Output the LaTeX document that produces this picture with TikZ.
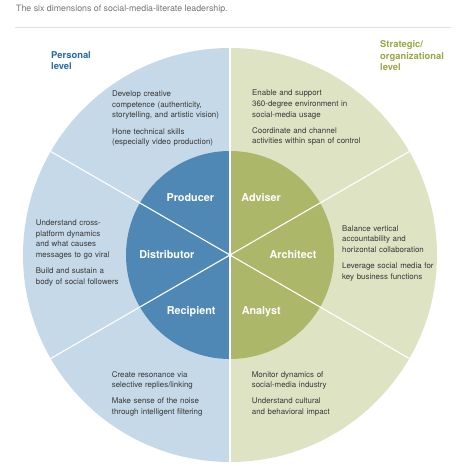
\documentclass[tikz,border=0pt]{standalone}
\usepackage{fontspec}
\setmainfont{TeX Gyre Heros}
\usetikzlibrary{positioning}
\definecolor{personalblue}{RGB}{80,136,181}
\definecolor{personallight}{RGB}{197,217,232}
\definecolor{strategicgreen}{RGB}{172,183,106}
\definecolor{strategiclight}{RGB}{222,227,196}
\definecolor{headblue}{RGB}{36,104,166}
\definecolor{headgreen}{RGB}{150,168,66}
\definecolor{textgray}{RGB}{55,55,55}

\begin{document}
\begin{tikzpicture}[x=1pt, y=1pt,
    role/.style={font=\bfseries\fontsize{10.8}{12}\selectfont, text=white, inner sep=0pt},
    skill/.style={font=\fontsize{7.9}{10.6}\selectfont, text=textgray, align=left, anchor=base west, inner sep=0pt, text width=125pt},
    level/.style={font=\bfseries\fontsize{9.4}{11.6}\selectfont, align=left, anchor=base west, inner sep=0pt}]
    \useasboundingbox (-230,-211) rectangle (237,255);

    % Title
    \node[font=\fontsize{8.8}{10}\selectfont, text=black!55, anchor=base west, inner sep=0pt] (title) at (-214,243) {The six dimensions of social-media-literate leadership.};
    \draw[black!12, line width=0.8pt] (-215,228) -- (221,228);

    % Outer ring
    \fill[personallight] (0,207) arc[start angle=90, end angle=270, radius=207] -- cycle;
    \fill[strategiclight] (0,-207) arc[start angle=-90, end angle=90, radius=207] -- cycle;

    % Inner disc
    \fill[personalblue] (0,104) arc[start angle=90, end angle=270, radius=104] -- cycle;
    \fill[strategicgreen] (0,-104) arc[start angle=-90, end angle=90, radius=104] -- cycle;

    % Dividers
    \coordinate (hub) at (0,0);
    \foreach \a in {30,150,210,330} {
        \draw[white, line width=1.1pt] (hub) -- (\a:207);
    }
    \draw[white, line width=1.1pt] (0,-207) -- (0,207);

    % Roles
    \node[role] (producer) at (-39.7,57.7) {Producer};
    \node[role] (distributor) at (-63.2,0) {Distributor};
    \node[role] (recipient) at (-38.8,-56.7) {Recipient};
    \node[role] (adviser) at (31.2,57.7) {Adviser};
    \node[role] (architect) at (63,0) {Architect};
    \node[role] (analyst) at (31.2,-56.7) {Analyst};

    % Levels
    \node[level, text=headblue] (personal) at (-179,185) {Personal\\level};
    \node[level, text=headgreen] (strategic) at (150,184.3) {Strategic/\\organizational\\level};

    % Skills
    \node[skill] (producerskills) at (-118,158.2) {Develop creative\\competence (authenticity,\\storytelling, and artistic vision)\\[5.6pt]Hone technical skills\\(especially video production)};
    \node[skill] (adviserskills) at (22,159) {Enable and support\\360-degree environment in\\social-media usage\\[5.6pt]Coordinate and channel\\activities within span of control};
    \node[skill] (distributorskills) at (-194.3,29.2) {Understand cross-\\platform dynamics\\and what causes\\messages to go viral\\[5.6pt]Build and sustain a\\body of social followers};
    \node[skill] (architectskills) at (112,23.8) {Balance vertical\\accountability and\\horizontal collaboration\\[5.6pt]Leverage social media for\\key business functions};
    \node[skill] (recipientskills) at (-118.3,-122.2) {Create resonance via\\selective replies/linking\\[5.6pt]Make sense of the noise\\through intelligent filtering};
    \node[skill] (analystskills) at (21.7,-122.2) {Monitor dynamics of\\social-media industry\\[5.6pt]Understand cultural\\and behavioral impact};
\end{tikzpicture}
\end{document}
